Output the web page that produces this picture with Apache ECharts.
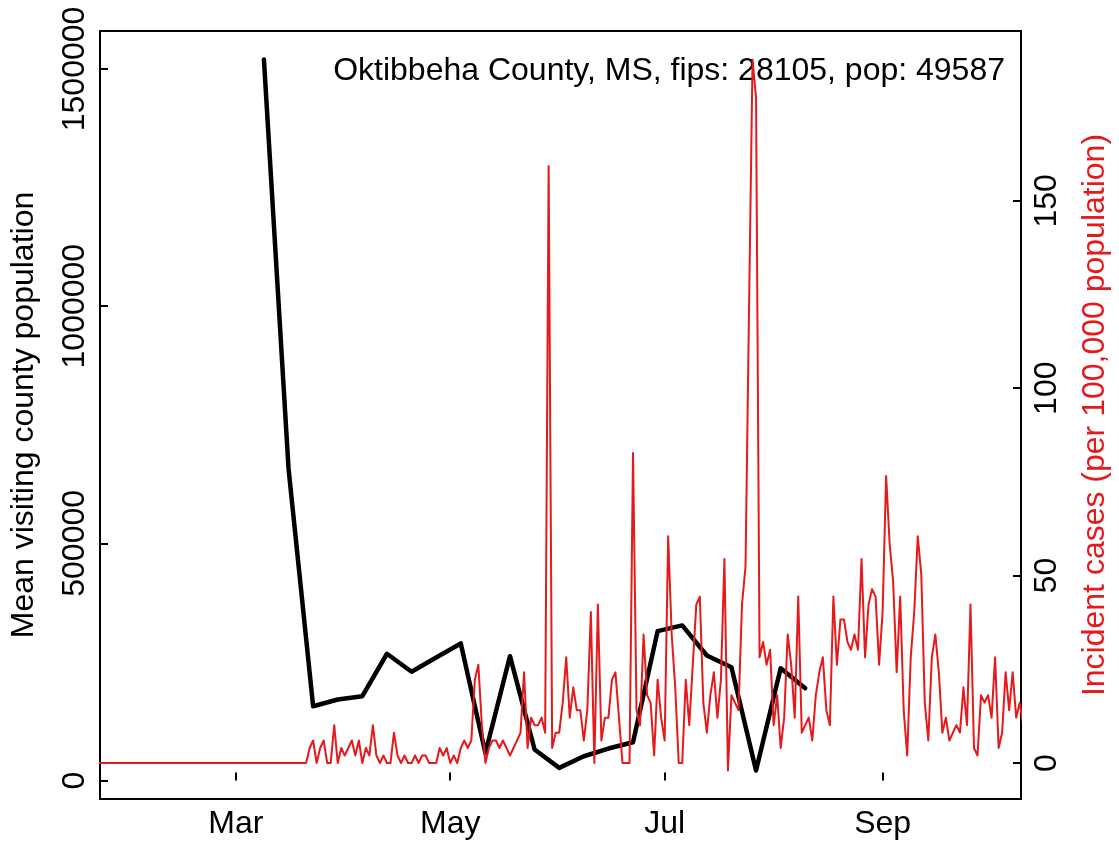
<!DOCTYPE html>
<html><head><meta charset="utf-8">
<script src="https://cdn.jsdelivr.net/npm/echarts@6/dist/echarts.min.js"></script>
<style>html,body{margin:0;padding:0;background:#fff}#c{width:1119px;height:843px}</style>
</head><body><div id="c"></div>
<script>
const FONT = '"Liberation Sans", Arial, Helvetica, sans-serif';
const titleText = 'Oktibbeha County, MS, fips: 28105, pop: 49587';
const leftAxisName = 'Mean visiting county population';
const rightAxisName = 'Incident cases (per 100,000 population)';

const xTickDates = ['2020-03-01', '2020-05-01', '2020-07-01', '2020-09-01'];
const xTickLabels = ['Mar', 'May', 'Jul', 'Sep'];
const leftTicks = [0, 500000, 1000000, 1500000];
const rightTicks = [0, 50, 100, 150];

// weekly mean visiting county population (black)
const mobilityDates = ['2020-03-09','2020-03-16','2020-03-23','2020-03-30','2020-04-06','2020-04-13',
  '2020-04-20','2020-04-27','2020-05-04','2020-05-11','2020-05-18','2020-05-25','2020-06-01',
  '2020-06-08','2020-06-15','2020-06-22','2020-06-29','2020-07-06','2020-07-13','2020-07-20',
  '2020-07-27','2020-08-03','2020-08-10'];
const mobilityValues = [1520000, 658000, 156700, 170900, 177800, 267300, 229300, 259500, 289000,
  58000, 262200, 65400, 26800, 51300, 67500, 80800, 315000, 327000, 263700, 239000, 21100,
  236900, 194700];

// daily incident cases per 100,000 (red), one value per day from incidenceStart
const incidenceStart = '2020-01-22';
const incidenceValues = [
  // Jan 22 - Jan 31
  0,0,0,0,0,0,0,0,0,0,
  // Feb
  0,0,0,0,0,0,0,0,0,0,0,0,0,0,0,0,0,0,0,0,0,0,0,0,0,0,0,0,0,
  // Mar 1 - Mar 31
  0,0,0,0,0,0,0,0,0,0,0,0,0,0,0,0,0,0,0,0,0,
  4.0,6.0,0,4.0,6.0,0,0,10.1,0,4.0,
  // Apr
  2.0,4.0,6.0,2.0,6.0,0,4.0,2.0,10.1,2.0,0,2.0,0,0,8.1,2.0,0,2.0,0,0,2.0,0,2.0,2.0,0,0,0,4.0,2.0,4.0,
  // May
  0,2.0,0,4.0,6.0,4.0,6.0,22.2,26.2,10.1,0,4.0,6.0,6.0,4.0,6.0,4.0,2.0,4.0,6.0,8.1,24.2,4.0,12.1,10.1,10.1,12.1,8.1,159.3,4.0,8.1,
  // Jun
  8.1,16.1,28.2,12.1,20.2,14.1,14.1,6.0,14.1,40.3,0,42.3,6.0,12.1,12.1,22.2,24.2,12.1,0,0,0,82.7,14.1,10.1,34.3,18.1,16.1,2.0,22.2,12.1,
  // Jul
  6.0,60.5,34.3,20.2,0,0,22.2,10.1,26.2,42.3,44.4,16.1,8.1,18.1,24.2,12.1,22.2,54.4,-2.0,18.1,16.1,14.1,42.3,52.4,121.0,187.6,177.5,28.2,32.3,26.2,30.2,
  // Aug
  10.1,18.1,4.0,12.1,34.3,26.2,12.1,44.4,8.1,10.1,12.1,6.0,18.1,24.2,28.2,14.1,10.1,44.4,26.2,38.3,38.3,32.3,30.2,34.3,30.2,54.4,28.2,42.3,46.4,44.4,26.2,
  // Sep
  40.3,76.6,58.5,48.4,24.2,44.4,14.1,2.0,28.2,40.3,60.5,50.4,16.1,6.0,28.2,34.3,24.2,8.1,12.1,6.0,8.1,10.1,8.1,20.2,10.1,42.3,4.0,2.0,18.1,16.1,
  // Oct 1 - Oct 11
  18.1,12.1,28.2,4.0,8.1,24.2,14.1,24.2,12.1,16.1,10.1
];

const DAY = 86400000;
const ts = s => Date.parse(s + 'T00:00:00Z');
const xMin = ts('2020-01-22') + 0.37 * DAY;
const xMax = xMin + 262 * DAY;
const xTickTimes = xTickDates.map(ts);

const mobilityData = mobilityDates.map((d, i) => [ts(d), mobilityValues[i]]);
const start = ts(incidenceStart);
const incidenceData = incidenceValues.map((v, i) => [start + i * DAY, v]);

const chart = echarts.init(document.getElementById('c'), null, {renderer: 'canvas'});
const tickStyle = {show: true, inside: true, length: 8, lineStyle: {color: '#000', width: 2}};
chart.setOption({
  animation: false,
  backgroundColor: '#fff',
  textStyle: {fontFamily: FONT},
  grid: {left: 100, right: 98, top: 31, bottom: 44, show: true, borderColor: '#000', borderWidth: 2, backgroundColor: 'transparent'},
  xAxis: {
    type: 'value', min: xMin, max: xMax, scale: true,
    axisLine: {show: false},
    splitLine: {show: false},
    axisTick: Object.assign({customValues: xTickTimes}, tickStyle),
    axisLabel: {
      customValues: xTickTimes, margin: 9, color: '#000', fontSize: 32, fontFamily: FONT,
      formatter: v => {
        let best = 0;
        xTickTimes.forEach((t, i) => { if (Math.abs(t - v) < Math.abs(xTickTimes[best] - v)) best = i; });
        return xTickLabels[best];
      }
    }
  },
  yAxis: [{
    type: 'value', position: 'left', min: -38856, max: 1579956,
    axisLine: {show: false}, splitLine: {show: false},
    axisTick: Object.assign({customValues: leftTicks}, tickStyle),
    axisLabel: {customValues: leftTicks, rotate: 90, margin: 9, color: '#000', fontSize: 32, fontFamily: FONT, formatter: v => String(v)},
    name: leftAxisName, nameLocation: 'middle', nameRotate: 90, nameGap: 60,
    nameTextStyle: {color: '#000', fontSize: 32, fontFamily: FONT}
  }, {
    type: 'value', position: 'right', min: -9.6, max: 195.3,
    axisLine: {show: false}, splitLine: {show: false},
    axisTick: Object.assign({customValues: rightTicks}, tickStyle),
    axisLabel: {customValues: rightTicks, rotate: 90, margin: 10, color: '#000', fontSize: 32, fontFamily: FONT, formatter: v => String(v)},
    name: rightAxisName, nameLocation: 'middle', nameRotate: 90, nameGap: 58,
    nameTextStyle: {color: '#e41a1c', fontSize: 32, fontFamily: FONT}
  }],
  graphic: [{
    type: 'text', right: 114, top: 55,
    style: {text: titleText, fill: '#000', font: '32px ' + FONT}
  }],
  series: [{
    type: 'line', yAxisIndex: 0, data: mobilityData, showSymbol: false, symbol: 'none',
    lineStyle: {color: '#000', width: 4.5, cap: 'round', join: 'round'}, z: 2
  }, {
    type: 'line', yAxisIndex: 1, data: incidenceData, showSymbol: false, symbol: 'none',
    lineStyle: {color: '#e41a1c', width: 2, join: 'round'}, z: 3
  }]
});
</script>
</body></html>
